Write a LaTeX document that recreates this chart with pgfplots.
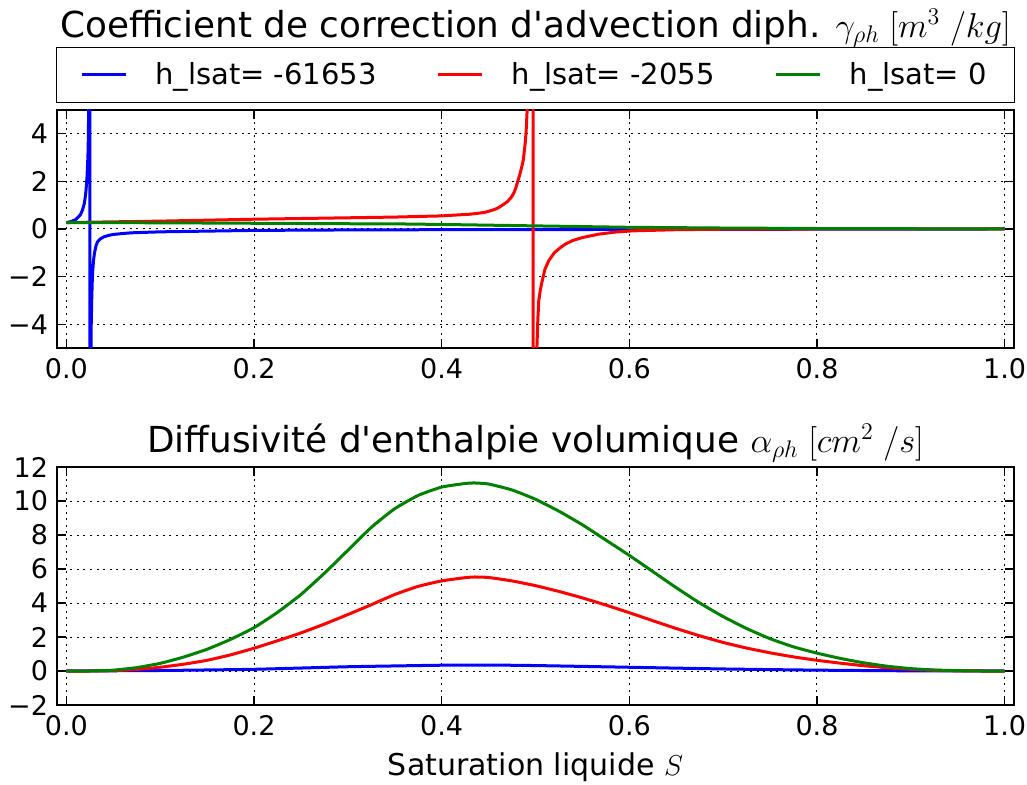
\documentclass[border=0pt]{standalone}
\usepackage{pgfplots}
\pgfplotsset{compat=1.18}
\usepackage{fontspec}
\setmainfont{DejaVu Sans}[Ligatures=TeXOff]
\definecolor{mplgreen}{rgb}{0,0.5,0}
\pgfplotsset{
  common/.style={
    scale only axis, width=478.5pt, height=119pt,
    xmin=-0.01, xmax=1.01,
    xtick={0,0.2,0.4,0.6,0.8,1.0},
    xticklabels={0.0,0.2,0.4,0.6,0.8,1.0},
    grid=major,
    major grid style={black, line width=0.5pt, dash pattern=on 1pt off 2.3pt},
    axis line style={black, line width=0.9pt},
    major tick length=4.5pt,
    tick style={black, line width=0.6pt},
    tick align=inside,
    ticklabel style={font=\fontsize{13.5}{16}\selectfont},
    xticklabel style={yshift=-1.5pt},
    yticklabel style={xshift=-1pt},
    every axis plot/.append style={line width=1.5pt, no markers},
    title style={font=\fontsize{17.9}{20}\selectfont},
    clip=true,
  }
}
\begin{document}
\begin{tikzpicture}
\path[use as bounding box] (0,0) rectangle (513.5pt,-392.5pt);
\begin{axis}[common,
  at={(28.5pt,-55pt)}, anchor=north west,
  ymin=-5, ymax=5,
  ytick={-4,-2,0,2,4},
  yticklabels={−4,−2,0,2,4},
  title={Coefficient de correction d'advection diph. $\gamma_{\rho h}\;[m^3\;/kg]$},
  title style={at={(0.5,1)}, anchor=south, yshift=22pt},
  legend columns=3,
  legend style={at={(0.5,1)}, anchor=south, yshift=3.5pt,
    draw=black, line width=0.6pt, fill=white,
    font=\fontsize{14.5}{17}\selectfont,
    inner xsep=12pt, inner ysep=5.5pt,
    /tikz/every even column/.append style={column sep=28pt},
    /tikz/every odd column/.append style={column sep=12pt}},
  legend image code/.code={\draw[#1, line width=1.5pt] (0pt,0pt) -- (22pt,0pt);},
]
\addplot[blue] coordinates {
(0,0.27) (0.005,0.31) (0.01,0.4) (0.015,0.6) (0.017,0.78) (0.019,1.05) (0.02,1.3)
(0.021,1.65) (0.022,2.2) (0.023,3.1) (0.0235,4) (0.0245,10) (0.0249,60)
(0.0251,-60) (0.0255,-12) (0.026,-6) (0.0265,-4) (0.027,-3) (0.0275,-2.3)
(0.028,-1.8) (0.029,-1.3) (0.03,-1.0) (0.0315,-0.72) (0.033,-0.55) (0.036,-0.42)
(0.04,-0.33) (0.045,-0.27) (0.05,-0.23) (0.06,-0.19) (0.07,-0.16) (0.085,-0.14)
(0.1,-0.12) (0.15,-0.09) (0.2,-0.06) (0.3,-0.04) (0.4,-0.03)
(0.6,-0.02) (0.8,-0.01) (1,0)
};
\addlegendentry{h\_lsat= -61653}
\addplot[red] coordinates {
(0,0.27) (0.1,0.33) (0.2,0.41) (0.3,0.47) (0.35,0.5) (0.4,0.55) (0.43,0.62)
(0.445,0.69) (0.455,0.8) (0.46,0.88) (0.4635,0.97) (0.467,1.06) (0.47,1.15)
(0.474,1.32) (0.477,1.52) (0.479,1.72) (0.481,2.0) (0.483,2.25) (0.485,2.55)
(0.487,2.9) (0.489,3.6) (0.490,4.1) (0.491,4.9) (0.493,7)
(0.495,12) (0.4972,60) (0.4978,-60) (0.499,-15) (0.5,-8) (0.5015,-5)
(0.5025,-3.8) (0.5035,-3.0) (0.505,-2.6) (0.507,-2.2) (0.51,-1.7) (0.514,-1.34)
(0.52,-1.0) (0.526,-0.8) (0.532,-0.63) (0.54,-0.48)
(0.55,-0.36) (0.567,-0.22) (0.585,-0.13) (0.603,-0.08) (0.65,-0.03)
(0.7,-0.01) (0.8,0) (1,0)
};
\addlegendentry{h\_lsat= -2055}
\addplot[mplgreen] coordinates {
(0,0.27) (0.1,0.26) (0.2,0.24) (0.3,0.22) (0.36,0.21) (0.4,0.19) (0.5,0.13)
(0.6,0.07) (0.7,0.04) (0.8,0.02) (0.9,0.01) (1,0)
};
\addlegendentry{h\_lsat= 0}
\end{axis}

\begin{axis}[common,
  at={(28.5pt,-233.5pt)}, anchor=north west,
  ymin=-2, ymax=12,
  ytick={-2,0,2,4,6,8,10,12},
  yticklabels={−2,0,2,4,6,8,10,12},
  title={Diffusivité d'enthalpie volumique $\alpha_{\rho h}\;[cm^2\;/s]$},
  title style={at={(0.5,1)}, anchor=south, yshift=-7pt},
  xlabel={Saturation liquide $S$},
  xlabel style={font=\fontsize{15}{18}\selectfont, yshift=-1.5pt},
  every axis plot/.append style={smooth, tension=0.3},
]
\addplot[blue] coordinates {
(0,0) (0.1,0.03) (0.2,0.1) (0.3,0.25) (0.4,0.34) (0.45,0.35) (0.5,0.32)
(0.6,0.22) (0.7,0.12) (0.8,0.05) (0.9,0.01) (1,0)
};
\addplot[red] coordinates {
(0,0) (0.025,0) (0.05,0.02) (0.075,0.09) (0.1,0.22) (0.125,0.4) (0.15,0.63)
(0.175,0.95) (0.2,1.34) (0.225,1.78) (0.25,2.24) (0.275,2.76) (0.3,3.32)
(0.325,3.9) (0.35,4.5) (0.375,4.98) (0.4,5.3) (0.425,5.49) (0.435,5.53)
(0.45,5.5) (0.475,5.3) (0.5,5.02) (0.525,4.68) (0.55,4.3) (0.575,3.88)
(0.6,3.43) (0.625,2.96) (0.65,2.5) (0.675,2.07) (0.7,1.68) (0.725,1.35)
(0.75,1.07) (0.775,0.83) (0.8,0.63) (0.825,0.46) (0.85,0.31) (0.875,0.19)
(0.9,0.1) (0.925,0.04) (0.95,0.01) (0.975,0) (1,0)
};
\addplot[mplgreen] coordinates {
(0,0) (0.025,0) (0.05,0.05) (0.075,0.2) (0.1,0.45) (0.125,0.82) (0.15,1.28)
(0.175,1.86) (0.2,2.55) (0.225,3.45) (0.25,4.5) (0.275,5.75) (0.3,7.1)
(0.325,8.45) (0.35,9.55) (0.375,10.33) (0.4,10.82) (0.425,11.03) (0.435,11.06)
(0.45,11.0) (0.475,10.65) (0.5,10.1) (0.525,9.4) (0.55,8.6) (0.575,7.7)
(0.6,6.8) (0.625,5.85) (0.65,4.9) (0.675,4.0) (0.7,3.2) (0.725,2.5)
(0.75,1.9) (0.775,1.42) (0.8,1.05) (0.825,0.74) (0.85,0.48) (0.875,0.28)
(0.9,0.14) (0.925,0.06) (0.95,0.02) (0.975,0) (1,0)
};
\end{axis}
\end{tikzpicture}
\end{document}
